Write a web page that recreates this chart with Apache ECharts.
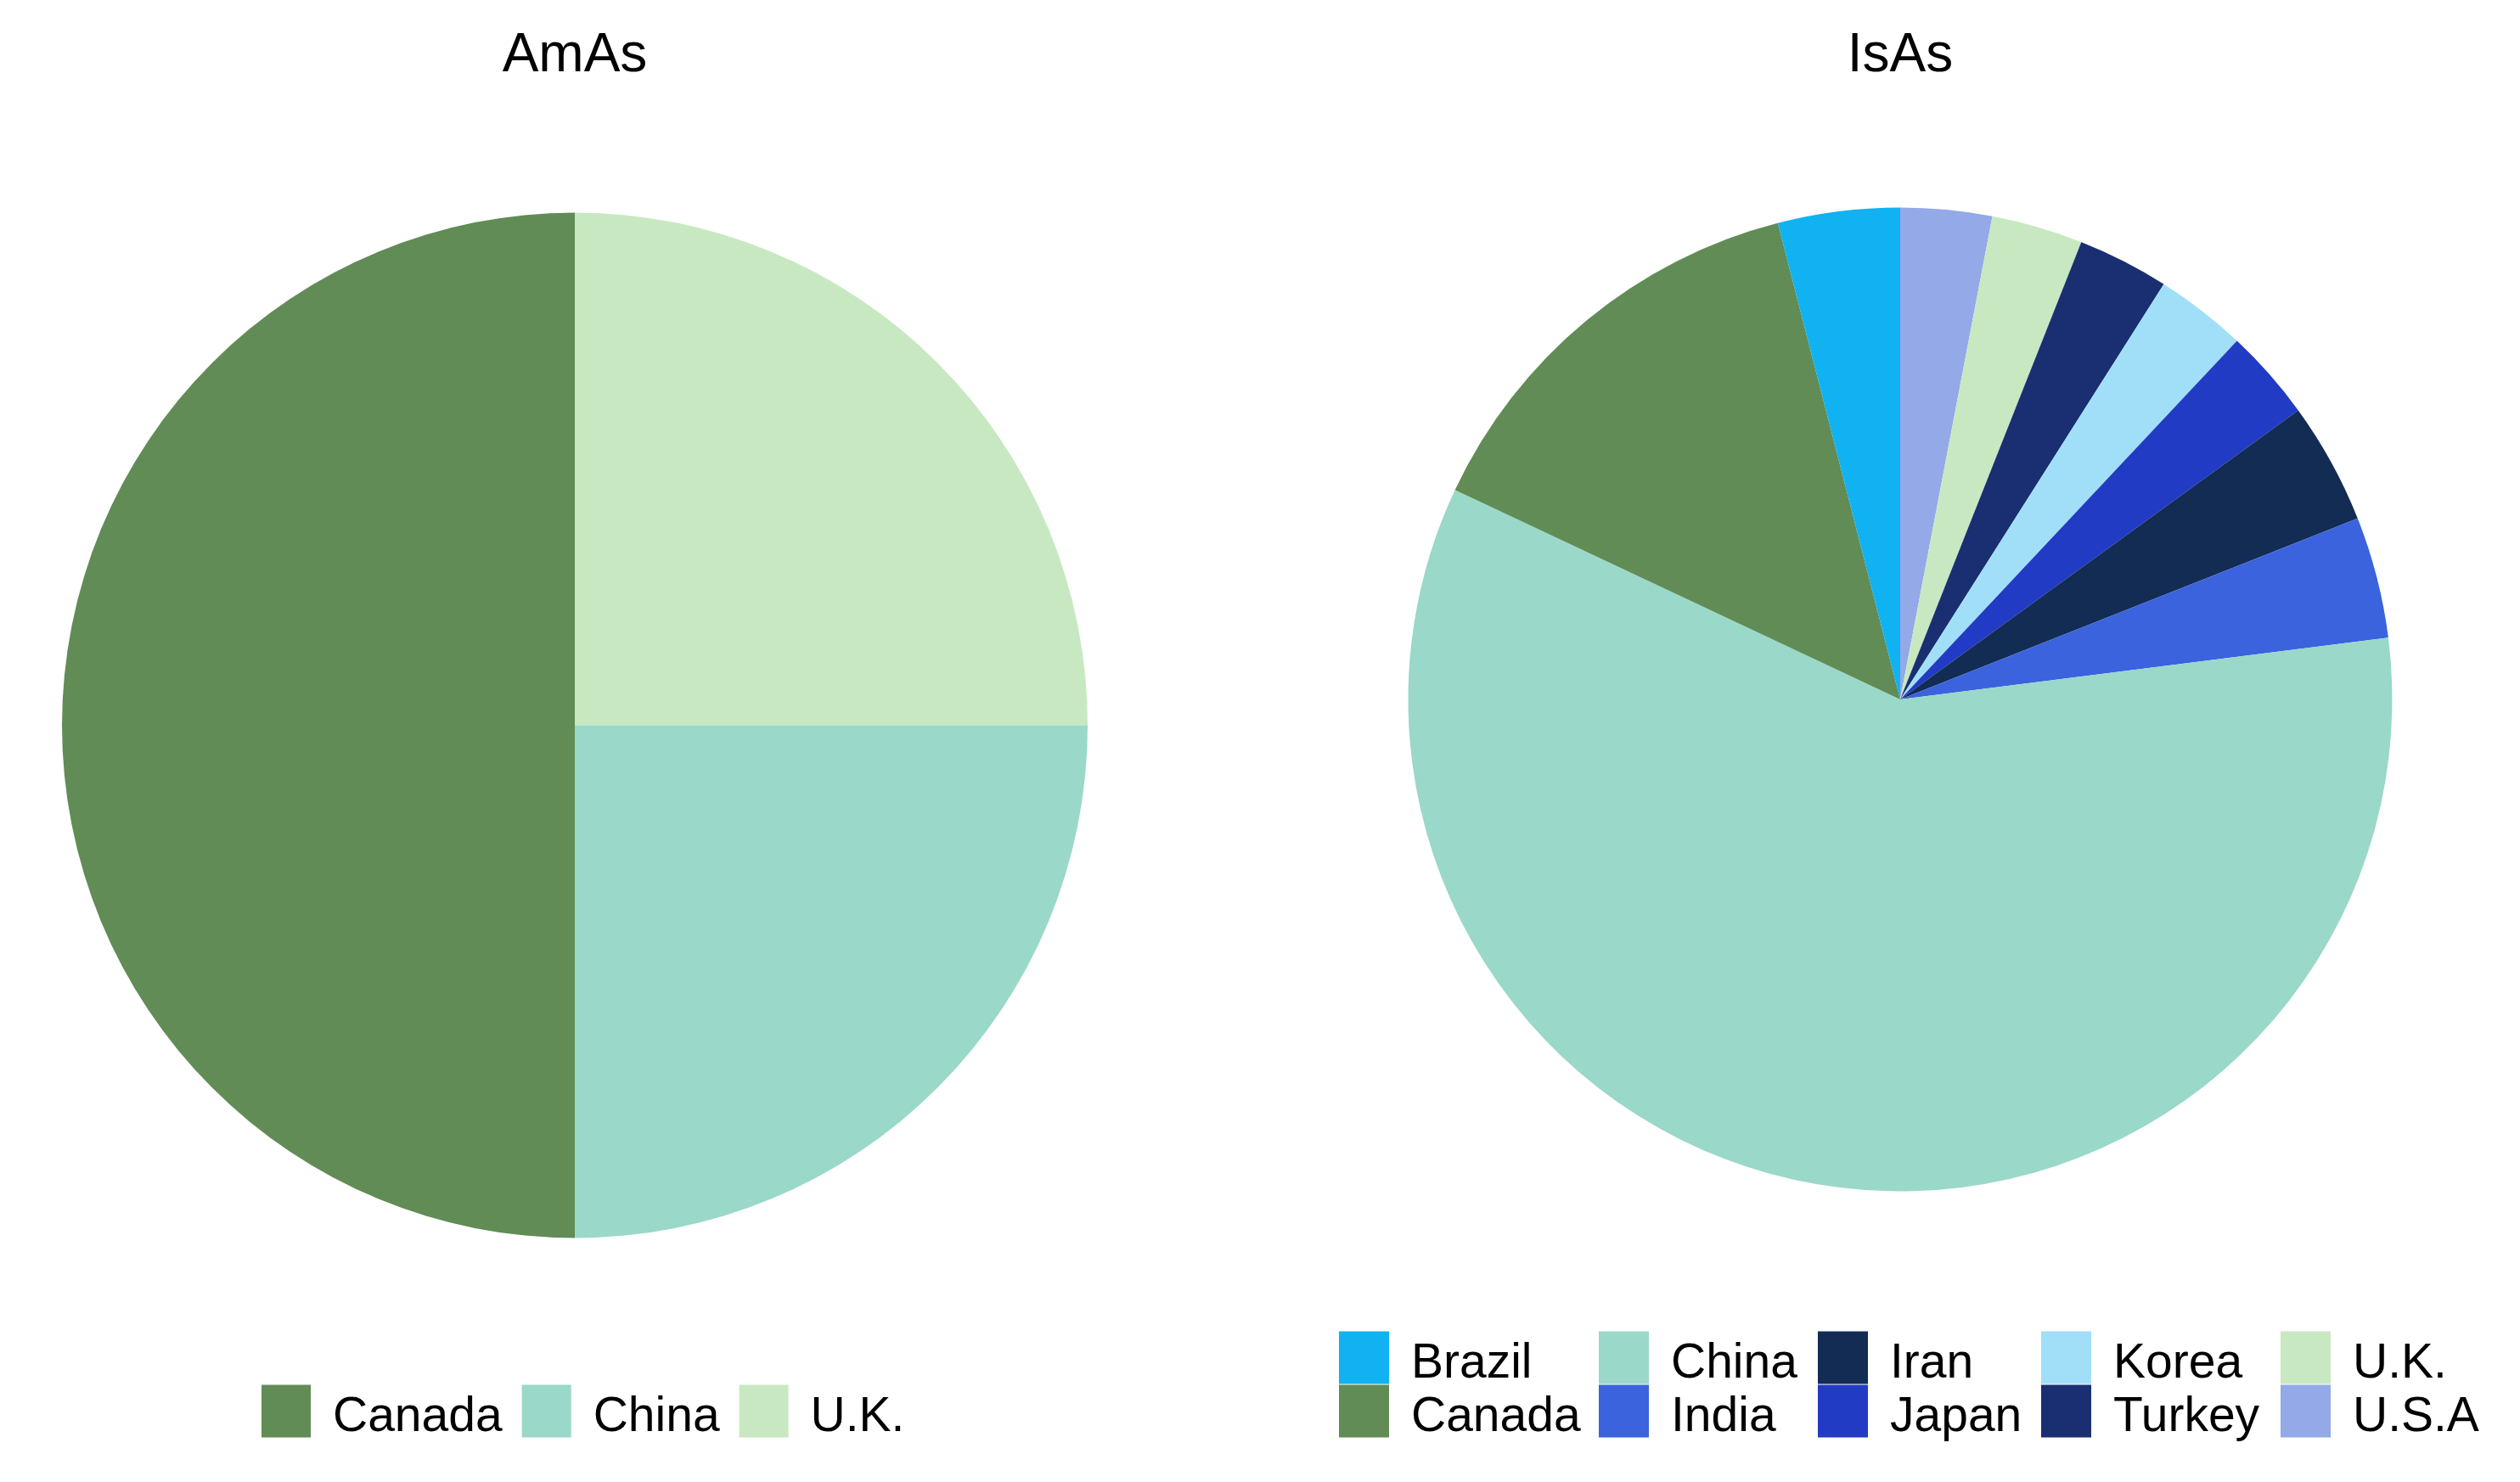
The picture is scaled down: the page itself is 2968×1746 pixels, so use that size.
<!DOCTYPE html>
<html>
<head>
<meta charset="utf-8">
<script src="https://cdn.jsdelivr.net/npm/echarts@6/dist/echarts.min.js"></script>
<style>
html,body{margin:0;padding:0;background:#fff;}
#chart{width:2968px;height:1746px;}
</style>
</head>
<body>
<div id="chart"></div>
<script>
// Panel titles
var titles = ['AmAs', 'IsAs'];

// AmAs pie (clockwise from 12 o'clock)
var amasCategories = ['U.K.', 'China', 'Canada'];
var amasValues = [1, 1, 2];

// IsAs pie (clockwise from 12 o'clock)
var isasCategories = ['U.S.A', 'U.K.', 'Turkey', 'Korea', 'Japan', 'Iran', 'India', 'China', 'Canada', 'Brazil'];
var isasValues = [3, 3, 3, 3, 3, 4, 4, 59, 14, 4];

// Legend entries
var amasLegend = ['Canada', 'China', 'U.K.'];
var isasLegendColumns = [['Brazil', 'Canada'], ['China', 'India'], ['Iran', 'Japan'], ['Korea', 'Turkey'], ['U.K.', 'U.S.A']];

var colorMap = {
  'Brazil': '#10B2F2',
  'Canada': '#618C56',
  'China': '#9AD8C9',
  'India': '#3B63DD',
  'Iran': '#122C54',
  'Japan': '#213BC4',
  'Korea': '#A1DFF9',
  'Turkey': '#1A2F72',
  'U.K.': '#C8E8C2',
  'U.S.A': '#93A9E8'
};

var FONT = '"Liberation Sans", Arial, sans-serif';

function mkData(cats, vals) {
  return cats.map(function (c, i) {
    return { name: c, value: vals[i], itemStyle: { color: colorMap[c] } };
  });
}

var chart = echarts.init(document.getElementById('chart'), null, { renderer: 'canvas' });

var legendText = {
  color: '#000', fontFamily: FONT, fontSize: 57, lineHeight: 20, padding: [0, 0, 0, 21],
  rich: {
    t: { color: '#000', fontFamily: FONT, fontSize: 57, lineHeight: 20, padding: [16, 0, 0, 0] }
  }
};
var legendFmt = function (name) { return '{t|' + name + '}'; };

var legends = [{
  data: amasLegend,
  orient: 'horizontal',
  left: 308, top: 1626,
  padding: 0,
  itemWidth: 58, itemHeight: 62, itemGap: 23,
  icon: 'rect',
  selectedMode: false,
  formatter: legendFmt,
  textStyle: legendText
}];
var colLefts = [1577, 1883, 2141, 2404, 2686];
isasLegendColumns.forEach(function (col, i) {
  legends.push({
    data: col,
    orient: 'vertical',
    left: colLefts[i], top: 1563,
    padding: 0,
    itemWidth: 59, itemHeight: 62, itemGap: -10,
    icon: 'rect',
    selectedMode: false,
    formatter: legendFmt,
    textStyle: legendText
  });
});

var pieCommon = {
  type: 'pie',
  startAngle: 90,
  clockwise: true,
  label: { show: false },
  labelLine: { show: false },
  itemStyle: { borderWidth: 0 },
  emphasis: { disabled: true },
  silent: true,
  animation: false,
  avoidLabelOverlap: false,
  minAngle: 0
};

chart.setOption({
  animation: false,
  backgroundColor: '#fff',
  title: [
    { text: titles[0], left: 677, top: 34, textAlign: 'center', padding: 0,
      textStyle: { fontFamily: FONT, fontSize: 64, fontWeight: 'normal', color: '#000', lineHeight: 64 } },
    { text: titles[1], left: 2238, top: 34, textAlign: 'center', padding: 0,
      textStyle: { fontFamily: FONT, fontSize: 64, fontWeight: 'normal', color: '#000', lineHeight: 64 } }
  ],
  legend: legends,
  series: [
    Object.assign({}, pieCommon, {
      name: titles[0],
      center: [677, 854.5],
      radius: [0, 604],
      data: mkData(amasCategories, amasValues)
    }),
    Object.assign({}, pieCommon, {
      name: titles[1],
      center: [2238, 824],
      radius: [0, 579.5],
      data: mkData(isasCategories, isasValues)
    })
  ]
});
</script>
</body>
</html>
